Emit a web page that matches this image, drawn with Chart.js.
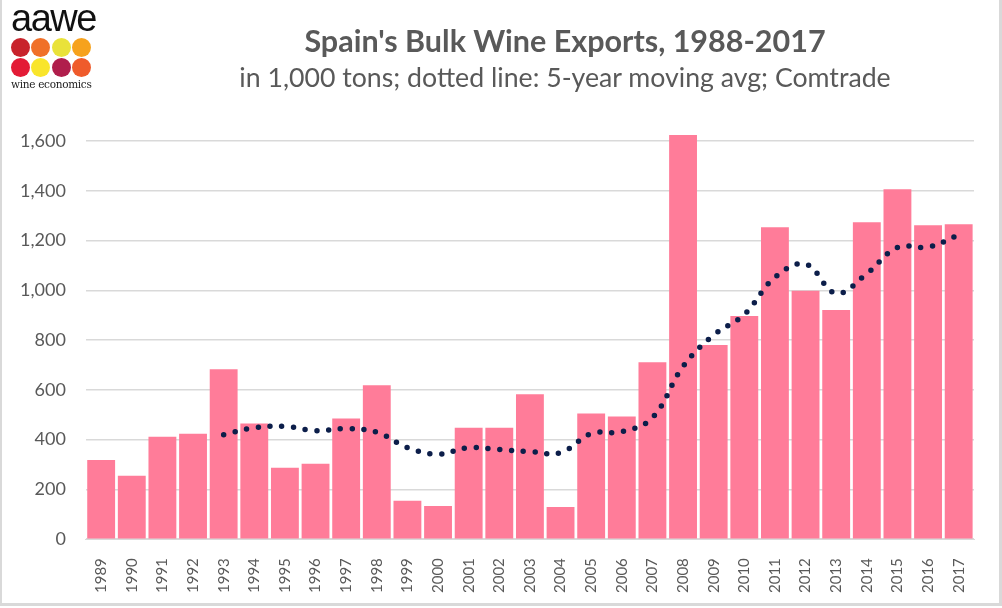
<!DOCTYPE html>
<html>
<head>
<meta charset="utf-8">
<script src="https://cdn.jsdelivr.net/npm/chart.js@4.4.1/dist/chart.umd.min.js"></script>
<style>
  html, body { margin: 0; padding: 0; background: #fff; }
  #wrap { position: relative; width: 1002px; height: 608px; overflow: hidden; }
  #frame { position: absolute; left: 0; top: 0; width: 997px; height: 603px;
    border-left: 2px solid #d9d9d9; border-right: 3px solid #d9d9d9; border-bottom: 3px solid #d9d9d9; }
  canvas { position: absolute; left: 0; top: 0; }
  .title { position: absolute; left: 0; width: 1130px; text-align: center; color: #595959; font-family: Lato, sans-serif; }
  #t1 { top: 22px; font-size: 30.5px; font-weight: bold; }
  #t2 { top: 61px; font-size: 26.7px; }
  #logo { position: absolute; left: 11px; top: 1px; width: 90px; }
  #logo .word { font-family: "Liberation Sans", sans-serif; font-size: 38px; line-height: 34px; color: #111; letter-spacing: -1.5px; }
  #logo .dots { display: grid; grid-template-columns: repeat(4, 19px); gap: 1px 1.3px; margin-top: 3px; }
  #logo .dots span { width: 19px; height: 19px; border-radius: 50%; display: block; }
  #logo .sub { font-family: "DejaVu Serif", serif; font-size: 10.5px; color: #222; margin-top: 1px; letter-spacing: -0.3px; }
</style>
</head>
<body>
<div id="wrap">
  <div id="frame"></div>
  <canvas id="chart" width="1002" height="608"></canvas>
  <div id="logo">
    <div class="word">aawe</div>
    <div class="dots" id="dots"></div>
    <div class="sub">wine economics</div>
  </div>
  <div class="title" id="t1">Spain's Bulk Wine Exports, 1988-2017</div>
  <div class="title" id="t2">in 1,000 tons; dotted line: 5-year moving avg; Comtrade</div>
</div>
<script>
const years = ["1989", "1990", "1991", "1992", "1993", "1994", "1995", "1996", "1997", "1998",
  "1999", "2000", "2001", "2002", "2003", "2004", "2005", "2006", "2007", "2008",
  "2009", "2010", "2011", "2012", "2013", "2014", "2015", "2016", "2017"];

// bulk wine exports, 1,000 tons
const exportsTons = [318, 255, 412, 424, 683, 465, 287, 303, 485, 618,
  154, 133, 448, 448, 582, 129, 505, 493, 711, 1624,
  780, 897, 1253, 998, 921, 1273, 1406, 1261, 1265];

// 5-year moving average
const movingAvg = [null, null, null, null, 420, 448, 453, 436, 444, 430,
  368, 342, 368, 360, 352, 348, 424, 432, 488, 694,
  820, 903, 1052, 1105, 988, 1067, 1172, 1174, 1222];

const yTicks = [0, 200, 400, 600, 800, 1000, 1200, 1400, 1600];

const logoColors = ["#c8232c", "#f07028", "#e9e23a", "#f6a21d",
  "#e31b36", "#f9e52b", "#b01e4c", "#ef5b2b"];

logoColors.forEach((c) => {
  const s = document.createElement("span");
  s.style.background = c;
  document.getElementById("dots").appendChild(s);
});

const grey = "#595959";

new Chart(document.getElementById("chart"), {
  data: {
    labels: years,
    datasets: [
      {
        type: "line",
        label: "5-year moving avg",
        data: movingAvg,
        borderColor: "#0c1e4a",
        borderWidth: 5.5,
        borderDash: [0, 11.8],
        borderCapStyle: "round",
        pointRadius: 0,
        tension: 0.4,
        fill: false,
        order: 0,
      },
      {
        type: "bar",
        label: "Bulk wine exports",
        data: exportsTons,
        backgroundColor: "#ff7c99",
        barPercentage: 0.91,
        categoryPercentage: 1.0,
        order: 1,
      },
    ],
  },
  options: {
    responsive: false,
    animation: false,
    devicePixelRatio: 1,
    layout: { padding: { left: 0, right: 28, top: 126, bottom: 4 } },
    plugins: { legend: { display: false }, tooltip: { enabled: false } },
    scales: {
      x: {
        grid: { display: false },
        border: { display: true, color: "#d9d9d9", width: 1 },
        ticks: {
          color: grey,
          font: { family: "Lato", size: 15 },
          maxRotation: 90,
          minRotation: 90,
          autoSkip: false,
          padding: 11,
        },
      },
      y: {
        min: 0,
        max: 1660,
        afterBuildTicks: (axis) => {
          axis.ticks = yTicks.map((v) => ({ value: v }));
        },
        grid: { color: "#d9d9d9", lineWidth: 1.5, drawTicks: false },
        border: { display: false },
        ticks: {
          color: grey,
          font: { family: "Lato", size: 18 },
          padding: 20,
          callback: (v) => v.toLocaleString("en-US"),
        },
      },
    },
  },
});
</script>
</body>
</html>
